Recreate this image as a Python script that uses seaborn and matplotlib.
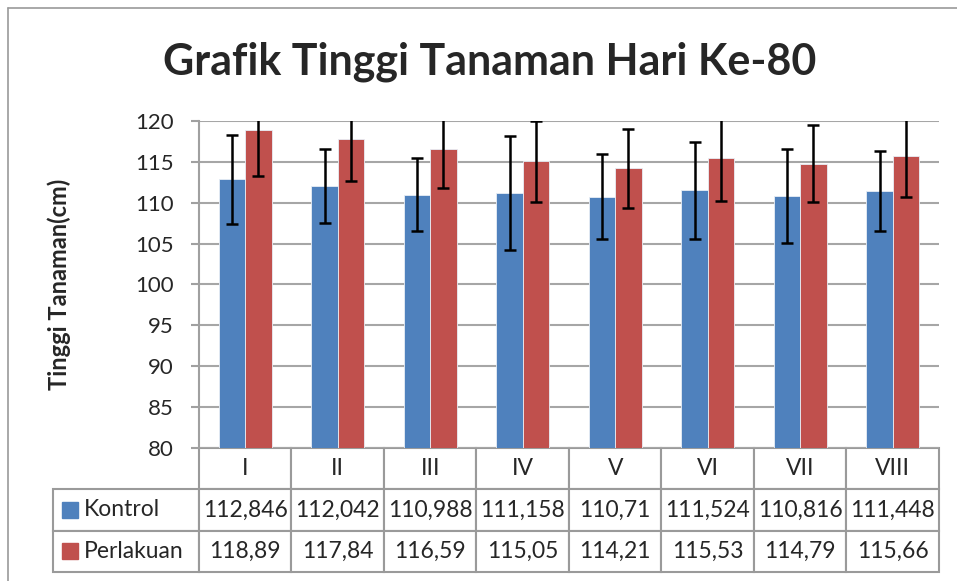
import matplotlib
matplotlib.use('Agg')
import matplotlib.pyplot as plt
import seaborn as sns
import pandas as pd
import numpy as np
from matplotlib.lines import Line2D

# data
kelompok = ['I', 'II', 'III', 'IV', 'V', 'VI', 'VII', 'VIII']
seri = ['Kontrol', 'Perlakuan']
kontrol = [112.846, 112.042, 110.988, 111.158, 110.71, 111.524, 110.816, 111.448]
perlakuan = [118.89, 117.84, 116.59, 115.05, 114.21, 115.53, 114.79, 115.66]
kontrol_err = [5.5, 4.5, 4.5, 6.95, 5.2, 5.9, 5.8, 4.9]
perlakuan_err = [5.6, 5.15, 4.8, 5.0, 4.85, 5.35, 4.7, 4.95]
warna = ['#4F81BD', '#C0504D']

df = pd.DataFrame({
    'kelompok': kelompok * 2,
    'seri': ['Kontrol'] * len(kelompok) + ['Perlakuan'] * len(kelompok),
    'tinggi': kontrol + perlakuan,
})

sns.set_style('white')
plt.rcParams['font.family'] = ['Lato', 'DejaVu Sans']

fig = plt.figure(figsize=(9.57, 5.81), dpi=100)
ax = fig.add_axes([199 / 957, 1 - 448 / 581, 740 / 957, 327 / 581])

sns.barplot(data=df, x='kelompok', y='tinggi', hue='seri', order=kelompok,
            hue_order=seri, palette=warna, saturation=1, width=0.57, gap=0,
            errorbar=None, legend=False, ax=ax, edgecolor='#E8EEF6',
            linewidth=0.6, zorder=3)

# error bars dari nilai yang dibaca
for cont, nilai, err in zip(ax.containers, [kontrol, perlakuan], [kontrol_err, perlakuan_err]):
    xs = [b.get_x() + b.get_width() / 2 for b in cont]
    ax.errorbar(xs, nilai, yerr=err, fmt='none', ecolor='black', elinewidth=1.8,
                capsize=4.5, capthick=1.8, zorder=4)

ax.set_ylim(80, 120)
ax.set_yticks(range(80, 121, 5))
ax.set_xlim(-0.5, len(kelompok) - 0.5)
ax.set_xticks([])
ax.set_xlabel('')
ax.set_ylabel('Tinggi Tanaman(cm)', fontsize=17, fontweight='bold', labelpad=46)
ax.yaxis.grid(True, color='#A6A6A6', linewidth=1.5, zorder=0)
ax.set_axisbelow(True)
for s in ['top', 'right', 'bottom']:
    ax.spines[s].set_visible(False)
ax.spines['left'].set_color('#A0A0A0')
ax.spines['left'].set_linewidth(1.5)
ax.tick_params(axis='y', direction='out', length=6, width=1.5, color='#A0A0A0',
               labelsize=16, pad=12, left=True)

fig.text(0.512, 0.893, 'Grafik Tinggi Tanaman Hari Ke-80', ha='center', va='center',
         fontsize=31, fontweight='bold')

# tabel data di bawah grafik
def fmt(v):
    return str(v).replace('.', ',')

baris = [[''] + kelompok,
         [''] + [fmt(v) for v in kontrol],
         [''] + [fmt(v) for v in perlakuan]]
lebar = [146] + [92.5] * len(kelompok)
tinggi_tabel = 124 / 327
x0 = (53 - 199) / 740
tab = ax.table(cellText=baris, colWidths=[w / sum(lebar) for w in lebar],
               cellLoc='center', bbox=[x0, -tinggi_tabel, 1 - x0, tinggi_tabel])
tab.auto_set_font_size(False)
tab.set_fontsize(16.5)
for (r, c), cell in tab.get_celld().items():
    cell.set_edgecolor('#9A9A9A')
    cell.set_linewidth(1.5)
    if r == 0 and c == 0:
        cell.visible_edges = ''

x_kotak = (70 - 199) / 740
x_teks = (84 - 199) / 740
for i, (nama, w) in enumerate(zip(seri, warna)):
    yc = -tinggi_tabel * (i + 1.5) / 3
    ax.add_line(Line2D([x_kotak], [yc], marker='s', markersize=11, color=w,
                       transform=ax.transAxes, clip_on=False))
    ax.text(x_teks, yc, nama, transform=ax.transAxes, ha='left', va='center',
            fontsize=16.5)

# garis tepi bagan
fig.add_artist(Line2D([8 / 957, 8 / 957], [0, 1 - 8 / 581], color='#9A9A9A', lw=1.2))
fig.add_artist(Line2D([8 / 957, 1], [1 - 8 / 581, 1 - 8 / 581], color='#9A9A9A', lw=1.2))

fig.savefig('out.png', dpi=100)
